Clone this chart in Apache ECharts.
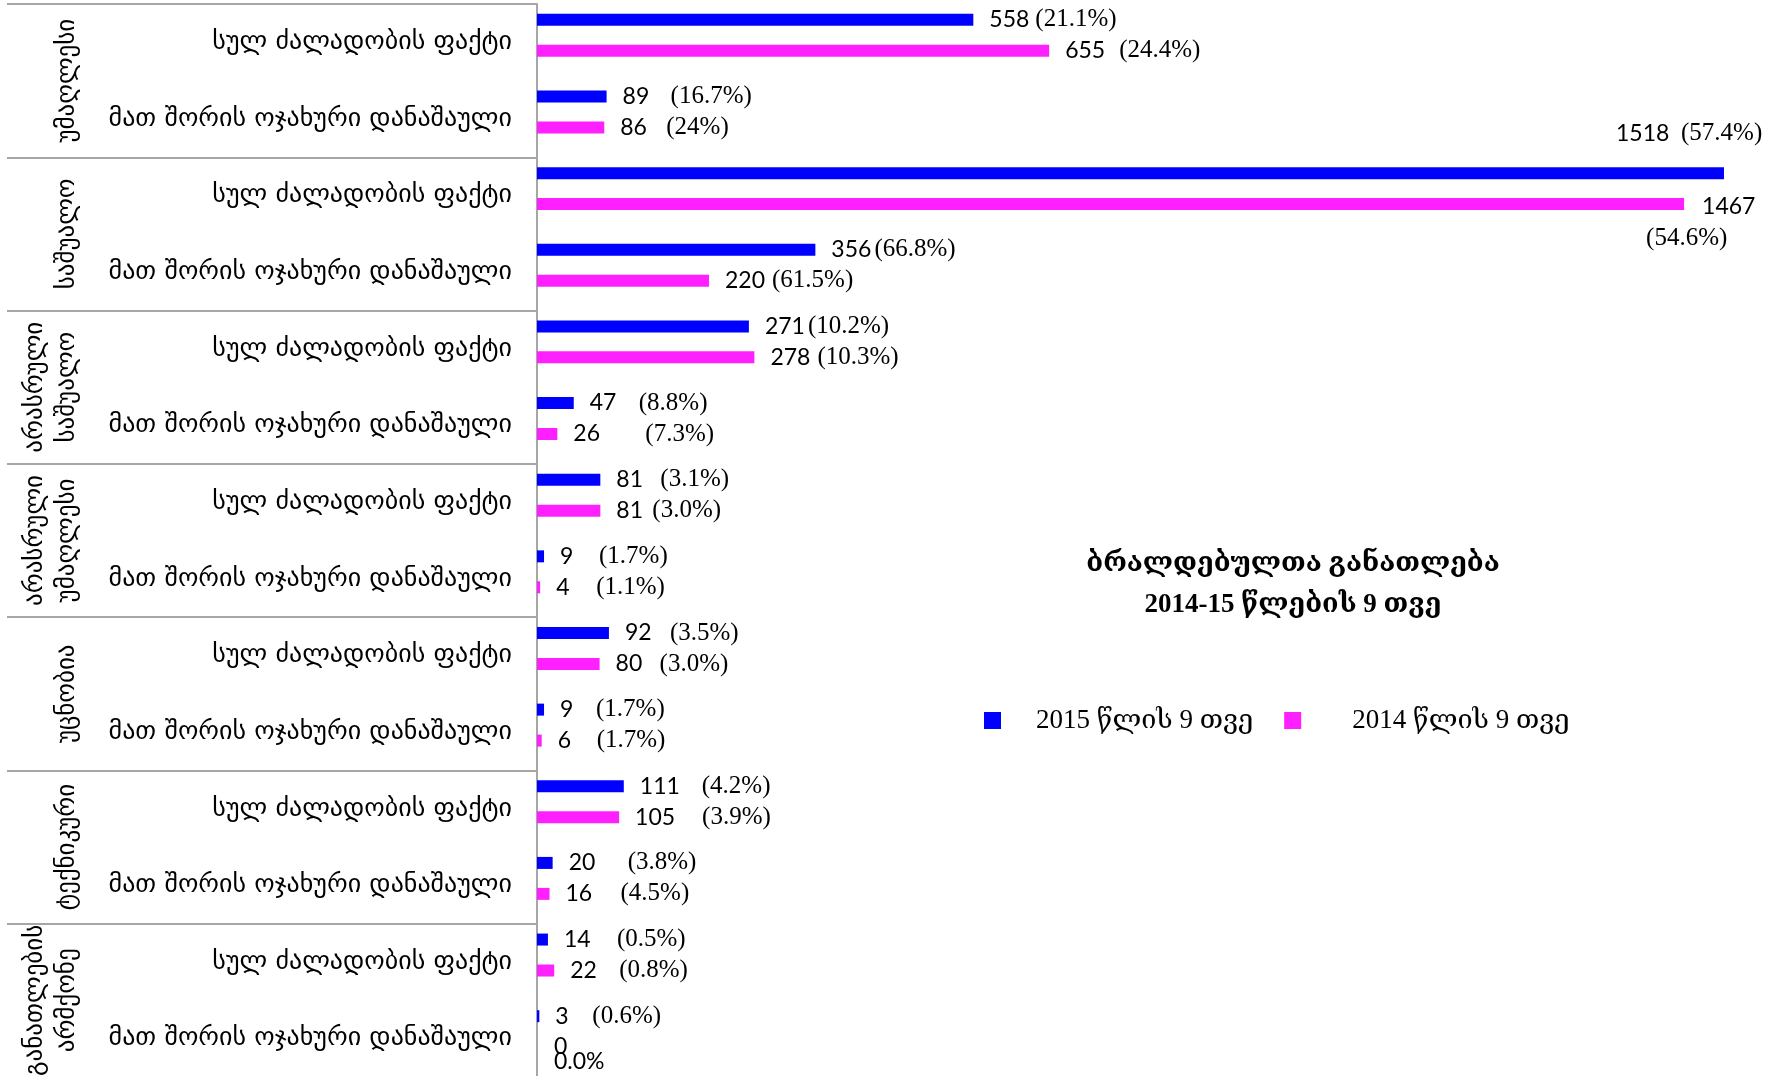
<!DOCTYPE html>
<html>
<head>
<meta charset="utf-8">
<script src="https://cdn.jsdelivr.net/npm/echarts@6/dist/echarts.min.js"></script>
<style>
  html, body { margin: 0; padding: 0; background: #fff; }
  #main { width: 1782px; height: 1076px; }
</style>
</head>
<body>
<div id="main"></div>
<script>
const subCategories = ['სულ ძალადობის ფაქტი', 'მათ შორის ოჯახური დანაშაული'];
const groups = ['უმაღლესი', 'საშუალო', 'არასრული\nსაშუალო', 'არასრული\nუმაღლესი', 'უცნობია', 'ტექნიკური', 'განათლების\nარმქონე'];
const categories = groups.flatMap(() => subCategories);

const values2015 = [558, 89, 1518, 356, 271, 47, 81, 9, 92, 9, 111, 20, 14, 3];
const values2014 = [655, 86, 1467, 220, 278, 26, 81, 4, 80, 6, 105, 16, 22, 0];
const shares2015 = ['(21.1%)', '(16.7%)', '(57.4%)', '(66.8%)', '(10.2%)', '(8.8%)', '(3.1%)', '(1.7%)', '(3.5%)', '(1.7%)', '(4.2%)', '(3.8%)', '(0.5%)', '(0.6%)'];
const shares2014 = ['(24.4%)', '(24%)', '(54.6%)', '(61.5%)', '(10.3%)', '(7.3%)', '(3.0%)', '(1.1%)', '(3.0%)', '(1.7%)', '(3.9%)', '(4.5%)', '(0.8%)', '0.0%'];

// where the share text starts, counted from the start of the number (px)
const shareOffset2015 = [46, 48, 65, 38, 42, 49, 44, 39, 45, 36, 62, 59, 53, 37];
const shareOffset2014 = [54, 46, 0, 47, 47, 72, 36, 40, 44, 39, 67, 55, 49, 0];

const NUM_FAMILY = 'Lato';
const NUM_SIZE = 23;
const PCT_FAMILY = "'Liberation Serif', 'DejaVu Serif'";
const PCT_SIZE = 25;
const GEO_SANS = "'DejaVu Sans'";

const measure = document.createElement('canvas').getContext('2d');
function textWidth(text) {
  measure.font = NUM_SIZE + 'px ' + NUM_FAMILY;
  return measure.measureText(text).width;
}

const numStyle = { fontFamily: NUM_FAMILY, fontSize: NUM_SIZE, color: '#000' };
const pctStyle = { fontFamily: PCT_FAMILY, fontSize: PCT_SIZE, color: '#000' };

function plainLabel(num, share, offset) {
  return {
    formatter: '{n|' + num + '}{p|' + share + '}',
    rich: {
      n: Object.assign({ width: Math.max(offset, textWidth(String(num)) + 3) }, numStyle),
      p: pctStyle
    }
  };
}

function buildData(values, shares, offsets, series) {
  return values.map((v, i) => {
    let label;
    if (i === 2 && series === 2015) {
      label = {
        position: 'right', distance: 0, offset: [-108, -40],
        formatter: '{n|' + v + '}{p|' + shares[i] + '}',
        rich: { n: Object.assign({ width: offsets[i] }, numStyle), p: pctStyle }
      };
    } else if (i === 2 && series === 2014) {
      label = {
        position: 'right', distance: 0, offset: [-38, 18],
        formatter: '{n|' + v + '}\n{p|' + shares[i] + '}',
        rich: {
          n: Object.assign({ padding: [0, 0, 0, 56], lineHeight: 32 }, numStyle),
          p: Object.assign({ lineHeight: 32 }, pctStyle)
        }
      };
    } else if (v === 0) {
      label = {
        position: 'right', distance: 17, offset: [0, 7],
        formatter: '{n|' + v + '}\n{n|' + shares[i] + '}',
        rich: { n: Object.assign({ lineHeight: 15 }, numStyle) }
      };
    } else {
      label = plainLabel(v, shares[i], offsets[i]);
    }
    return { value: v, label: label };
  });
}

const dom = document.getElementById('main');
const myChart = echarts.init(dom);

const gray = '#A6A6A6';

const option = {
  animation: false,
  backgroundColor: '#fff',
  title: {
    text: 'ბრალდებულთა განათლება\n2014-15 წლების 9 თვე',
    left: 1288,
    top: 539,
    textAlign: 'center',
    textStyle: {
      fontFamily: PCT_FAMILY,
      fontWeight: 'bold',
      fontSize: 27,
      lineHeight: 41,
      color: '#000'
    }
  },
  legend: {
    left: 979,
    top: 702,
    itemWidth: 17,
    itemHeight: 17,
    itemGap: 31,
    icon: 'rect',
    data: [
      { name: '2015 წლის 9 თვე', textStyle: { padding: [0, 0, 0, 30] } },
      { name: '2014 წლის 9 თვე', textStyle: { padding: [0, 0, 0, 46] } }
    ],
    textStyle: {
      fontFamily: PCT_FAMILY,
      fontSize: 27,
      color: '#000'
    }
  },
  grid: [
    { left: 537, right: 33, top: 4, height: 1073, containLabel: false, outerBoundsMode: 'none' },
    { left: 537, right: 33, top: -3, height: 1073, containLabel: false, outerBoundsMode: 'none' }
  ],
  xAxis: [
    { gridIndex: 0, type: 'value', min: 0, max: 1550, show: false },
    { gridIndex: 1, type: 'value', min: 0, max: 1550, show: false }
  ],
  yAxis: [
    {
      gridIndex: 0,
      type: 'category',
      inverse: true,
      position: 'left',
      data: categories,
      axisLine: { show: true, lineStyle: { color: gray, width: 2 } },
      axisTick: { show: false },
      splitLine: { show: false },
      axisLabel: {
        interval: 0,
        margin: 25,
        fontFamily: GEO_SANS,
        fontSize: 26,
        color: '#000'
      }
    },
    {
      gridIndex: 0,
      type: 'category',
      inverse: true,
      position: 'left',
      data: groups,
      axisLine: { show: false },
      axisTick: { show: true, interval: 0, length: 530, lineStyle: { color: gray, width: 2 } },
      splitLine: { show: false },
      axisLabel: {
        interval: 0,
        rotate: 90,
        margin: 454,
        align: 'center',
        verticalAlign: 'bottom',
        fontFamily: GEO_SANS,
        fontSize: 25,
        lineHeight: 32,
        color: '#000'
      }
    },
    {
      gridIndex: 1,
      type: 'category',
      inverse: true,
      data: categories,
      show: false
    }
  ],
  series: [
    {
      name: '2015 წლის 9 თვე',
      type: 'bar',
      xAxisIndex: 1,
      yAxisIndex: 2,
      barWidth: 12,
      barGap: '158%',
      itemStyle: { color: '#0000FF' },
      label: { show: true, position: 'right', distance: 16, color: '#000' },
      data: buildData(values2015, shares2015, shareOffset2015, 2015)
    },
    {
      name: '2014 წლის 9 თვე',
      type: 'bar',
      xAxisIndex: 1,
      yAxisIndex: 2,
      barWidth: 12,
      barGap: '158%',
      itemStyle: { color: '#FF20FF' },
      label: { show: true, position: 'right', distance: 16, color: '#000' },
      data: buildData(values2014, shares2014, shareOffset2014, 2014)
    }
  ]
};

myChart.setOption(option);

window.addEventListener('resize', myChart.resize);
</script>
</body>
</html>
